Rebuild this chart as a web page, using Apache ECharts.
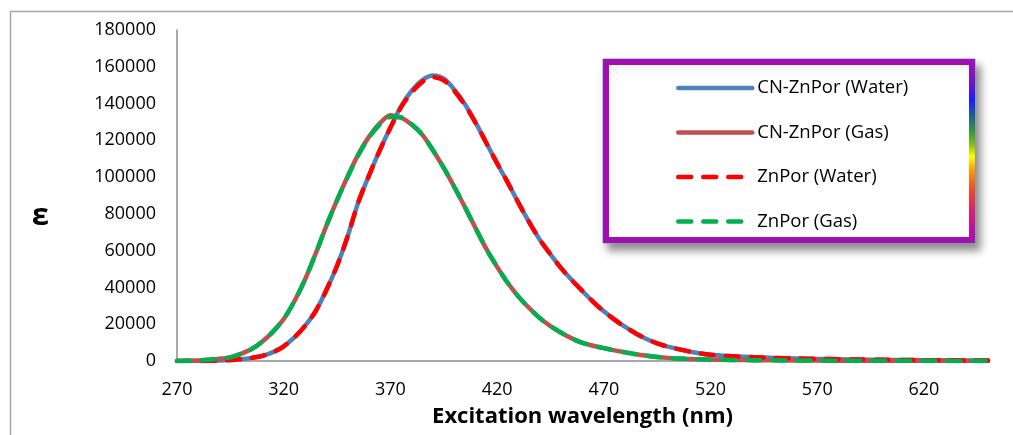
<!DOCTYPE html>
<html>
<head>
<meta charset="utf-8">
<script src="https://cdn.jsdelivr.net/npm/echarts@6/dist/echarts.min.js"></script>
<style>
html,body{margin:0;padding:0;background:#fff;}
#chart{width:1013px;height:435px;}
</style>
</head>
<body>
<div id="chart"></div>
<script>
// Excitation wavelengths (nm)
const wavelengths = [270,275,280,285,290,295,300,305,310,315,320,325,330,335,340,345,350,355,360,365,370,375,380,385,390,395,400,405,410,415,420,425,430,435,440,445,450,455,460,465,470,475,480,485,490,495,500,510,520,530,540,550,560,570,580,590,600,610,620,630,640,650];

// Series values (ε)
const cnZnPorWater = [0,0,20,80,250,550,950,1700,2800,4800,8000,12800,19100,27200,38600,51800,68000,86500,101000,114500,127000,138500,147000,152800,155300,153500,147500,139500,129500,118500,107500,97000,86000,75500,66000,58000,50500,44000,38000,32200,27000,22500,18500,15000,12000,9600,7800,5200,3400,2600,2100,1700,1400,1150,950,800,650,550,450,380,320,270];
const cnZnPorGas = [0,100,300,700,1200,2000,3900,6500,10600,16000,22800,32500,44300,58500,73500,87500,100500,112500,122000,129200,133700,132300,128500,123000,114500,105000,94500,83500,72000,60800,51200,42400,35000,28800,23300,19000,15400,12300,9800,8300,7000,5800,4700,3700,2900,2200,1700,1100,800,600,450,350,280,220,180,150,120,100,80,60,50,40];
const znPorWater = [0,0,20,80,250,550,950,1700,2800,4800,8000,12800,19100,27200,38600,51800,68000,86500,101000,114500,126800,138000,146000,151800,154300,152600,146800,139000,129300,118400,107500,97000,86000,75500,66000,58000,50500,44000,38000,32200,27000,22500,18500,15000,12000,9600,7800,5200,3400,2600,2100,1700,1400,1150,950,800,650,550,450,380,320,270];
const znPorGas = [0,100,300,700,1200,2000,3900,6500,10600,16000,22800,32500,44300,58500,73500,87500,100200,112000,121500,128600,132700,132500,128800,123000,114500,105000,94500,83500,72000,60800,51200,42400,35000,28800,23300,19000,15400,12300,9800,8300,7000,5800,4700,3700,2900,2200,1700,1100,800,600,450,350,280,220,180,150,120,100,80,60,50,40];

// Tick labels
const xTickLabels = [270,320,370,420,470,520,570,620];
const seriesNames = ['CN-ZnPor (Water)','CN-ZnPor (Gas)','ZnPor (Water)','ZnPor (Gas)'];
const seriesColors = ['#4f81bd','#c0504d','#ff0000','#00b050'];

const pair = arr => wavelengths.map((w,i)=>[w, arr[i]]);
const FONT = '"Open Sans", "Noto Sans", sans-serif';

const chart = echarts.init(document.getElementById('chart'), null, {renderer:'canvas'});

const DASH = [13,12];
const solid = (color) => ({width:4.5, color:color, type:'solid', cap:'round', join:'round'});
const dashed = (color) => ({width:4.5, color:color, type:DASH, cap:'round', join:'round'});

chart.setOption({
  animation:false,
  backgroundColor:'#ffffff',
  textStyle:{fontFamily:FONT},
  grid:{left:177, right:25, top:30, bottom:74, containLabel:false},
  xAxis:{
    type:'value', min:270, max:650,
    name:'Excitation wavelength (nm)', nameLocation:'middle', nameGap:45,
    nameTextStyle:{fontFamily:FONT, fontSize:22, fontWeight:'bold', color:'#000'},
    axisLine:{show:true, lineStyle:{color:'#8c8c8c', width:1.5}},
    axisTick:{show:false},
    splitLine:{show:false},
    axisLabel:{customValues:xTickLabels, margin:20, fontSize:18, color:'#000', fontFamily:FONT, formatter:v=>String(v)}
  },
  yAxis:{
    type:'value', min:0, max:180000, interval:20000,
    name:'ε', nameLocation:'middle', nameRotate:0, nameGap:128,
    nameTextStyle:{fontFamily:FONT, fontSize:31, fontWeight:'bold', color:'#000', verticalAlign:'top', lineHeight:42},
    axisLine:{show:true, lineStyle:{color:'#8c8c8c', width:1.5}},
    axisTick:{show:false},
    splitLine:{show:false},
    axisLabel:{margin:21, fontSize:18, color:'#000', fontFamily:FONT, formatter:v=>String(v)}
  },
  legend:{
    orient:'vertical', left:671, top:73,
    itemWidth:74, itemHeight:20, itemGap:24.5,
    itemStyle:{color:'rgba(0,0,0,0)', borderColor:'rgba(0,0,0,0)', borderWidth:0},
    textStyle:{fontFamily:FONT, fontSize:18.5, color:'#000', lineHeight:20},
    data:seriesNames.map((n,i)=>({
      name:n,
      lineStyle:{width:4.5, color:seriesColors[i], type:i<2?'solid':DASH, cap:'round'}
    })),
    z:10
  },
  graphic:[
    {type:'rect', z:-10, silent:true, shape:{x:10.5, y:11.5, width:1100, height:600},
     style:{fill:'none', stroke:'#a6a6a6', lineWidth:1.5}},
    {type:'rect', z:1, silent:true, shape:{x:603, y:59, width:372, height:184},
     style:{fill:'#ffffff', stroke:'#7ba0cd', lineWidth:1,
            shadowBlur:8, shadowOffsetX:5, shadowOffsetY:7, shadowColor:'rgba(0,0,0,0.45)'}},
    {type:'rect', z:2, silent:true, shape:{x:606, y:62, width:366, height:178},
     style:{fill:'none', stroke:'#a010b0', lineWidth:6}},
    {type:'rect', z:3, silent:true, shape:{x:969, y:59.5, width:6, height:183},
     style:{fill:new echarts.graphic.LinearGradient(0,0,0,1,[
       {offset:0, color:'#a010b0'},
       {offset:0.12, color:'#7a12c8'},
       {offset:0.22, color:'#1a1aff'},
       {offset:0.32, color:'#1f6a8a'},
       {offset:0.4, color:'#3a9a30'},
       {offset:0.47, color:'#90c010'},
       {offset:0.53, color:'#ffff00'},
       {offset:0.6, color:'#ffa000'},
       {offset:0.68, color:'#f06020'},
       {offset:0.74, color:'#e84030'},
       {offset:0.82, color:'#e0206a'},
       {offset:0.92, color:'#c0149a'},
       {offset:1, color:'#a810b0'}
     ])}}
  ],
  series:[
    {name:seriesNames[0], type:'line', data:pair(cnZnPorWater), smooth:0.3, showSymbol:false, symbol:'none', lineStyle:solid(seriesColors[0]), itemStyle:{color:seriesColors[0]}, z:2},
    {name:seriesNames[1], type:'line', data:pair(cnZnPorGas), smooth:0.3, showSymbol:false, symbol:'none', lineStyle:solid(seriesColors[1]), itemStyle:{color:seriesColors[1]}, z:2},
    {name:seriesNames[2], type:'line', data:pair(znPorWater), smooth:0.3, showSymbol:false, symbol:'none', lineStyle:dashed(seriesColors[2]), itemStyle:{color:seriesColors[2]}, z:3},
    {name:seriesNames[3], type:'line', data:pair(znPorGas), smooth:0.3, showSymbol:false, symbol:'none', lineStyle:dashed(seriesColors[3]), itemStyle:{color:seriesColors[3]}, z:3}
  ]
});
</script>
</body>
</html>
